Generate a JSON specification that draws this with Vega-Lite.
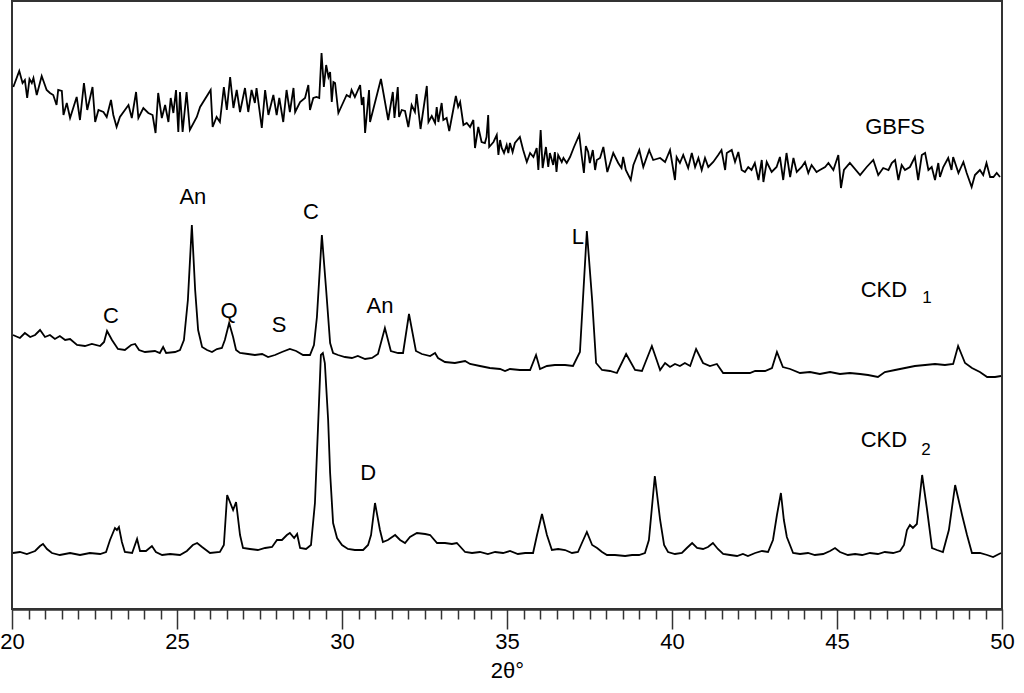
{
  "$schema": "https://vega.github.io/schema/vega-lite/v6.json",
  "width": 990,
  "height": 608,
  "autosize": {"type": "none"},
  "padding": {"left": 12, "top": 1, "right": 22, "bottom": 84},
  "background": "white",
  "config": {
    "view": {"stroke": "#333", "strokeWidth": 2},
    "font": "Liberation Sans"
  },
  "datasets": {
    "gbfs": [
      {"x":20.04,"y":513},{"x":20.22,"y":529},{"x":20.32,"y":517},{"x":20.39,"y":520},{"x":20.46,"y":502},{"x":20.53,"y":521},{"x":20.60,"y":517},{"x":20.65,"y":522},{"x":20.75,"y":505},{"x":20.90,"y":524},{"x":21.05,"y":510},{"x":21.15,"y":507},{"x":21.25,"y":505},{"x":21.35,"y":495},{"x":21.40,"y":510},{"x":21.51,"y":509},{"x":21.56,"y":485},{"x":21.66,"y":497},{"x":21.76,"y":482},{"x":21.96,"y":503},{"x":22.06,"y":480},{"x":22.18,"y":517},{"x":22.28,"y":490},{"x":22.44,"y":513},{"x":22.52,"y":478},{"x":22.62,"y":490},{"x":22.77,"y":488},{"x":22.87,"y":483},{"x":23.00,"y":500},{"x":23.07,"y":485},{"x":23.17,"y":473},{"x":23.27,"y":483},{"x":23.53,"y":495},{"x":23.63,"y":482},{"x":23.76,"y":508},{"x":23.83,"y":482},{"x":23.98,"y":492},{"x":24.13,"y":487},{"x":24.26,"y":485},{"x":24.35,"y":467},{"x":24.43,"y":507},{"x":24.54,"y":482},{"x":24.64,"y":495},{"x":24.74,"y":478},{"x":24.81,"y":502},{"x":24.89,"y":487},{"x":24.97,"y":510},{"x":25.04,"y":468},{"x":25.09,"y":508},{"x":25.17,"y":468},{"x":25.29,"y":508},{"x":25.39,"y":470},{"x":25.60,"y":483},{"x":25.70,"y":493},{"x":26.02,"y":510},{"x":26.08,"y":473},{"x":26.20,"y":483},{"x":26.30,"y":478},{"x":26.42,"y":513},{"x":26.51,"y":490},{"x":26.61,"y":523},{"x":26.71,"y":492},{"x":26.81,"y":510},{"x":26.91,"y":488},{"x":27.06,"y":512},{"x":27.16,"y":488},{"x":27.26,"y":510},{"x":27.36,"y":497},{"x":27.41,"y":512},{"x":27.57,"y":472},{"x":27.67,"y":510},{"x":27.77,"y":485},{"x":27.92,"y":505},{"x":28.02,"y":485},{"x":28.10,"y":502},{"x":28.22,"y":478},{"x":28.32,"y":510},{"x":28.42,"y":488},{"x":28.53,"y":512},{"x":28.58,"y":488},{"x":28.73,"y":498},{"x":28.88,"y":502},{"x":28.98,"y":515},{"x":29.03,"y":490},{"x":29.13,"y":502},{"x":29.23,"y":503},{"x":29.31,"y":502},{"x":29.38,"y":547},{"x":29.45,"y":513},{"x":29.52,"y":535},{"x":29.59,"y":523},{"x":29.64,"y":528},{"x":29.69,"y":498},{"x":29.74,"y":518},{"x":29.79,"y":517},{"x":29.89,"y":487},{"x":30.14,"y":505},{"x":30.24,"y":503},
      {"x":30.29,"y":510},{"x":30.39,"y":503},{"x":30.55,"y":515},{"x":30.60,"y":495},{"x":30.65,"y":503},{"x":30.70,"y":467},{"x":30.82,"y":510},{"x":30.85,"y":478},{"x":31.18,"y":521},{"x":31.40,"y":480},{"x":31.54,"y":508},{"x":31.59,"y":482},{"x":31.69,"y":513},{"x":31.73,"y":483},{"x":31.81,"y":490},{"x":31.91,"y":489},{"x":32.01,"y":473},{"x":32.11,"y":495},{"x":32.21,"y":488},{"x":32.26,"y":506},{"x":32.38,"y":471},{"x":32.57,"y":514},{"x":32.62,"y":478},{"x":32.72,"y":484},{"x":32.82,"y":477},{"x":32.87,"y":493},{"x":32.92,"y":478},{"x":33.02,"y":497},{"x":33.07,"y":480},{"x":33.17,"y":482},{"x":33.25,"y":469},{"x":33.45,"y":504},{"x":33.52,"y":493},{"x":33.58,"y":498},{"x":33.68,"y":475},{"x":33.78,"y":477},{"x":33.88,"y":473},{"x":33.98,"y":480},{"x":34.03,"y":452},{"x":34.13,"y":473},{"x":34.23,"y":458},{"x":34.33,"y":457},{"x":34.38,"y":463},{"x":34.43,"y":485},{"x":34.46,"y":453},{"x":34.59,"y":458},{"x":34.69,"y":465},{"x":34.74,"y":445},{"x":34.79,"y":460},{"x":34.84,"y":452},{"x":34.91,"y":447},{"x":34.99,"y":455},{"x":35.04,"y":447},{"x":35.09,"y":457},{"x":35.17,"y":448},{"x":35.24,"y":457},{"x":35.39,"y":463},{"x":35.49,"y":450},{"x":35.60,"y":438},{"x":35.70,"y":447},{"x":35.80,"y":443},{"x":35.90,"y":452},{"x":35.95,"y":430},{"x":36.02,"y":470},{"x":36.08,"y":432},{"x":36.18,"y":453},{"x":36.25,"y":433},{"x":36.30,"y":447},{"x":36.40,"y":435},{"x":36.45,"y":448},{"x":36.50,"y":428},{"x":36.55,"y":445},{"x":36.66,"y":438},{"x":36.71,"y":442},{"x":36.81,"y":437},{"x":36.91,"y":443},{"x":37.03,"y":453},{"x":37.19,"y":465},{"x":37.26,"y":445},{"x":37.33,"y":427},{"x":37.39,"y":454},{"x":37.46,"y":448},{"x":37.51,"y":437},{"x":37.60,"y":450},{"x":37.67,"y":430},{"x":37.72,"y":440},{"x":37.82,"y":442},{"x":37.92,"y":453},{"x":38.04,"y":428},{"x":38.22,"y":447},{"x":38.37,"y":437},{"x":38.47,"y":432},{"x":38.52,"y":443},{"x":38.60,"y":430},{"x":38.75,"y":420},{"x":38.83,"y":435},{"x":39.01,"y":450},{"x":39.13,"y":433},{"x":39.31,"y":450},
      {"x":39.33,"y":448},{"x":39.43,"y":440},{"x":39.64,"y":442},{"x":39.79,"y":438},{"x":39.94,"y":450},{"x":40.09,"y":420},{"x":40.14,"y":443},{"x":40.24,"y":437},{"x":40.34,"y":445},{"x":40.49,"y":432},{"x":40.60,"y":447},{"x":40.70,"y":433},{"x":40.80,"y":442},{"x":40.90,"y":430},{"x":41.00,"y":442},{"x":41.10,"y":433},{"x":41.25,"y":438},{"x":41.40,"y":445},{"x":41.50,"y":450},{"x":41.61,"y":430},{"x":41.66,"y":447},{"x":41.81,"y":450},{"x":41.91,"y":438},{"x":42.01,"y":448},{"x":42.11,"y":430},{"x":42.21,"y":428},{"x":42.31,"y":433},{"x":42.41,"y":430},{"x":42.51,"y":437},{"x":42.62,"y":420},{"x":42.72,"y":440},{"x":42.77,"y":418},{"x":42.87,"y":438},{"x":43.02,"y":428},{"x":43.17,"y":433},{"x":43.27,"y":443},{"x":43.37,"y":420},{"x":43.47,"y":447},{"x":43.58,"y":423},{"x":43.68,"y":442},{"x":43.78,"y":428},{"x":43.93,"y":433},{"x":44.03,"y":438},{"x":44.13,"y":427},{"x":44.23,"y":435},{"x":44.38,"y":428},{"x":44.48,"y":430},{"x":44.64,"y":433},{"x":44.74,"y":437},{"x":44.89,"y":430},{"x":45.04,"y":445},{"x":45.12,"y":412},{"x":45.21,"y":430},{"x":45.39,"y":437},{"x":45.70,"y":425},{"x":45.90,"y":433},{"x":46.10,"y":440},{"x":46.25,"y":425},{"x":46.40,"y":432},{"x":46.56,"y":430},{"x":46.66,"y":437},{"x":46.76,"y":440},{"x":46.86,"y":420},{"x":46.96,"y":435},{"x":47.06,"y":430},{"x":47.21,"y":433},{"x":47.36,"y":443},{"x":47.46,"y":420},{"x":47.57,"y":445},{"x":47.67,"y":447},{"x":47.77,"y":430},{"x":47.87,"y":433},{"x":47.97,"y":420},{"x":48.07,"y":437},{"x":48.12,"y":423},{"x":48.22,"y":433},{"x":48.37,"y":442},{"x":48.47,"y":430},{"x":48.52,"y":443},{"x":48.68,"y":427},{"x":48.83,"y":438},{"x":48.93,"y":427},{"x":49.08,"y":413},{"x":49.18,"y":425},{"x":49.33,"y":430},{"x":49.43,"y":425},{"x":49.53,"y":437},{"x":49.64,"y":423},{"x":49.74,"y":423},{"x":49.84,"y":427},{"x":49.94,"y":423}
    ],
    "ckd1": [
      {"x":20.03,"y":265},{"x":20.24,"y":262},{"x":20.39,"y":267},{"x":20.55,"y":263},{"x":20.70,"y":265},{"x":20.85,"y":270},{"x":21.00,"y":263},{"x":21.15,"y":265},{"x":21.30,"y":261},{"x":21.45,"y":264},{"x":21.61,"y":260},{"x":21.76,"y":261},{"x":21.97,"y":255},{"x":22.21,"y":254},{"x":22.42,"y":256},{"x":22.67,"y":254},{"x":22.79,"y":258},{"x":22.88,"y":269},{"x":23.03,"y":260},{"x":23.21,"y":251},{"x":23.42,"y":250},{"x":23.61,"y":255},{"x":23.73,"y":256},{"x":23.85,"y":250},{"x":24.03,"y":248},{"x":24.33,"y":249},{"x":24.48,"y":247},{"x":24.58,"y":253},{"x":24.67,"y":247},{"x":24.94,"y":248},{"x":25.09,"y":250},{"x":25.21,"y":260},{"x":25.33,"y":300},{"x":25.45,"y":375},{"x":25.55,"y":310},{"x":25.64,"y":270},{"x":25.76,"y":253},{"x":25.91,"y":250},{"x":26.06,"y":248},{"x":26.21,"y":251},{"x":26.36,"y":252},{"x":26.45,"y":260},{"x":26.58,"y":277},{"x":26.70,"y":263},{"x":26.79,"y":250},{"x":26.91,"y":247},{"x":27.15,"y":246},{"x":27.36,"y":245},{"x":27.58,"y":246},{"x":27.76,"y":243},{"x":27.97,"y":245},{"x":28.18,"y":248},{"x":28.42,"y":251},{"x":28.61,"y":249},{"x":28.82,"y":245},{"x":29.03,"y":245},{"x":29.15,"y":255},{"x":29.24,"y":283},{"x":29.39,"y":365},{"x":29.52,"y":310},{"x":29.64,"y":257},{"x":29.73,"y":247},{"x":29.88,"y":245},{"x":30.09,"y":243},{"x":30.30,"y":242},{"x":30.48,"y":244},{"x":30.70,"y":241},{"x":30.91,"y":242},{"x":31.09,"y":246},{"x":31.30,"y":272},{"x":31.48,"y":249},{"x":31.70,"y":247},{"x":31.85,"y":247},{"x":32.03,"y":286},{"x":32.24,"y":249},{"x":32.42,"y":246},{"x":32.67,"y":244},{"x":32.82,"y":247},{"x":32.91,"y":242},{"x":33.12,"y":238},{"x":33.42,"y":237},{"x":33.73,"y":239},{"x":33.88,"y":236},{"x":34.18,"y":234},{"x":34.48,"y":232},{"x":34.79,"y":231},{"x":34.94,"y":229},{"x":35.09,"y":231},{"x":35.39,"y":230},{"x":35.70,"y":230},{"x":35.88,"y":245},{"x":36.00,"y":231},{"x":36.21,"y":234},{"x":36.45,"y":235},{"x":36.76,"y":235},{"x":37.00,"y":234},{"x":37.21,"y":248},{"x":37.42,"y":369},{"x":37.58,"y":300},{"x":37.70,"y":237},{"x":37.88,"y":230},{"x":38.12,"y":229},{"x":38.33,"y":227},{"x":38.61,"y":246},{"x":38.88,"y":230},{"x":39.09,"y":229},{"x":39.39,"y":254},{"x":39.64,"y":230},{"x":39.79,"y":237},{"x":39.94,"y":233},{"x":40.09,"y":236},{"x":40.24,"y":234},{"x":40.39,"y":237},{"x":40.55,"y":234},{"x":40.73,"y":251},{"x":40.94,"y":237},{"x":41.15,"y":234},{"x":41.36,"y":236},{"x":41.55,"y":227},{"x":41.91,"y":227},{"x":42.36,"y":227},{"x":42.52,"y":229},{"x":42.82,"y":229},{"x":43.03,"y":232},{"x":43.18,"y":248},{"x":43.36,"y":233},{"x":43.58,"y":231},{"x":43.88,"y":227},{"x":44.18,"y":228},{"x":44.48,"y":226},{"x":44.79,"y":228},{"x":45.09,"y":226},{"x":45.39,"y":227},{"x":45.70,"y":226},{"x":45.94,"y":225},{"x":46.24,"y":223},{"x":46.45,"y":228},{"x":46.76,"y":230},{"x":47.06,"y":232},{"x":47.36,"y":234},{"x":47.67,"y":235},{"x":47.97,"y":236},{"x":48.27,"y":235},{"x":48.52,"y":236},{"x":48.67,"y":254},{"x":48.88,"y":237},{"x":49.09,"y":232},{"x":49.33,"y":228},{"x":49.55,"y":223},{"x":49.79,"y":223},{"x":49.97,"y":224}
    ],
    "ckd2": [
      {"x":20.03,"y":47},{"x":20.24,"y":48},{"x":20.45,"y":46},{"x":20.70,"y":49},{"x":20.85,"y":54},{"x":20.94,"y":56},{"x":21.06,"y":51},{"x":21.21,"y":47},{"x":21.45,"y":45},{"x":21.76,"y":47},{"x":22.06,"y":45},{"x":22.36,"y":47},{"x":22.67,"y":46},{"x":22.85,"y":48},{"x":22.97,"y":60},{"x":23.12,"y":72},{"x":23.18,"y":70},{"x":23.24,"y":73},{"x":23.33,"y":58},{"x":23.42,"y":48},{"x":23.64,"y":47},{"x":23.79,"y":61},{"x":23.88,"y":49},{"x":24.06,"y":49},{"x":24.24,"y":54},{"x":24.36,"y":48},{"x":24.55,"y":45},{"x":24.79,"y":46},{"x":25.09,"y":45},{"x":25.30,"y":49},{"x":25.48,"y":55},{"x":25.61,"y":57},{"x":25.76,"y":53},{"x":26.00,"y":47},{"x":26.30,"y":48},{"x":26.42,"y":55},{"x":26.52,"y":105},{"x":26.70,"y":90},{"x":26.79,"y":98},{"x":26.91,"y":65},{"x":27.00,"y":52},{"x":27.21,"y":51},{"x":27.45,"y":50},{"x":27.67,"y":52},{"x":27.88,"y":53},{"x":28.03,"y":60},{"x":28.18,"y":60},{"x":28.33,"y":65},{"x":28.42,"y":67},{"x":28.55,"y":62},{"x":28.64,"y":66},{"x":28.73,"y":52},{"x":28.91,"y":51},{"x":29.06,"y":55},{"x":29.18,"y":97},{"x":29.27,"y":170},{"x":29.36,"y":245},{"x":29.42,"y":247},{"x":29.48,"y":237},{"x":29.58,"y":180},{"x":29.64,"y":127},{"x":29.73,"y":77},{"x":29.85,"y":62},{"x":30.00,"y":55},{"x":30.18,"y":51},{"x":30.39,"y":50},{"x":30.64,"y":50},{"x":30.79,"y":55},{"x":30.88,"y":65},{"x":31.00,"y":97},{"x":31.15,"y":70},{"x":31.24,"y":58},{"x":31.39,"y":60},{"x":31.61,"y":65},{"x":31.76,"y":60},{"x":31.91,"y":57},{"x":32.06,"y":63},{"x":32.27,"y":67},{"x":32.52,"y":66},{"x":32.67,"y":65},{"x":32.88,"y":57},{"x":33.12,"y":57},{"x":33.33,"y":56},{"x":33.48,"y":57},{"x":33.73,"y":48},{"x":33.94,"y":47},{"x":34.18,"y":48},{"x":34.42,"y":46},{"x":34.64,"y":48},{"x":34.88,"y":47},{"x":35.09,"y":49},{"x":35.33,"y":46},{"x":35.55,"y":47},{"x":35.79,"y":47},{"x":35.91,"y":65},{"x":36.06,"y":86},{"x":36.21,"y":65},{"x":36.36,"y":50},{"x":36.55,"y":51},{"x":36.76,"y":50},{"x":36.97,"y":47},{"x":37.15,"y":48},{"x":37.27,"y":57},{"x":37.42,"y":68},{"x":37.58,"y":55},{"x":37.73,"y":52},{"x":37.88,"y":48},{"x":38.03,"y":45},{"x":38.27,"y":45},{"x":38.58,"y":44},{"x":38.79,"y":45},{"x":39.00,"y":45},{"x":39.18,"y":47},{"x":39.30,"y":60},{"x":39.48,"y":124},{"x":39.64,"y":80},{"x":39.76,"y":55},{"x":39.88,"y":48},{"x":40.09,"y":46},{"x":40.30,"y":47},{"x":40.45,"y":52},{"x":40.61,"y":57},{"x":40.76,"y":52},{"x":40.94,"y":51},{"x":41.09,"y":53},{"x":41.24,"y":57},{"x":41.39,"y":51},{"x":41.55,"y":46},{"x":41.76,"y":45},{"x":41.97,"y":44},{"x":42.15,"y":46},{"x":42.30,"y":44},{"x":42.52,"y":47},{"x":42.73,"y":49},{"x":42.91,"y":48},{"x":43.06,"y":60},{"x":43.18,"y":85},{"x":43.30,"y":107},{"x":43.39,"y":80},{"x":43.48,"y":63},{"x":43.67,"y":47},{"x":43.88,"y":46},{"x":44.12,"y":47},{"x":44.33,"y":45},{"x":44.58,"y":46},{"x":44.79,"y":49},{"x":44.94,"y":52},{"x":45.09,"y":48},{"x":45.33,"y":45},{"x":45.55,"y":46},{"x":45.76,"y":45},{"x":46.00,"y":47},{"x":46.24,"y":46},{"x":46.45,"y":48},{"x":46.70,"y":47},{"x":46.91,"y":49},{"x":47.03,"y":55},{"x":47.12,"y":70},{"x":47.21,"y":75},{"x":47.30,"y":72},{"x":47.42,"y":76},{"x":47.58,"y":125},{"x":47.73,"y":90},{"x":47.88,"y":52},{"x":48.03,"y":50},{"x":48.21,"y":48},{"x":48.39,"y":70},{"x":48.58,"y":115},{"x":48.79,"y":85},{"x":48.94,"y":65},{"x":49.09,"y":47},{"x":49.33,"y":47},{"x":49.55,"y":45},{"x":49.73,"y":43},{"x":49.85,"y":45},{"x":49.97,"y":47}
    ],
    "labels": [
      {"t":"GBFS","x":46.76,"y":473},
      {"t":"An","x":25.48,"y":403},
      {"t":"C","x":29.06,"y":388},
      {"t":"L","x":37.15,"y":363},
      {"t":"CKD","x":46.42,"y":310},
      {"t":"C","x":23.0,"y":284},
      {"t":"Q","x":26.58,"y":289},
      {"t":"S","x":28.09,"y":275},
      {"t":"An","x":31.15,"y":294},
      {"t":"CKD","x":46.42,"y":160},
      {"t":"D","x":30.79,"y":127}
    ],
    "subs": [
      {"t":"1","x":47.73,"y":302},
      {"t":"2","x":47.7,"y":150}
    ]
  },
  "encoding": {
    "x": {"field": "x", "type": "quantitative", "scale": {"domain": [20, 50], "nice": false, "zero": false},
      "axis": {
        "orient": "bottom",
        "values": [20.5,21,21.5,22,22.5,23,23.5,24,24.5,25.5,26,26.5,27,27.5,28,28.5,29,29.5,30.5,31,31.5,32,32.5,33,33.5,34,34.5,35.5,36,36.5,37,37.5,38,38.5,39,39.5,40.5,41,41.5,42,42.5,43,43.5,44,44.5,45.5,46,46.5,47,47.5,48,48.5,49,49.5],
        "labels": false,
        "tickSize": 10,
        "tickColor": "#333",
        "tickWidth": 1.5,
        "domainColor": "#333",
        "domainWidth": 2,
        "grid": false,
        "title": null
      }},
    "y": {"field": "y", "type": "quantitative", "scale": {"domain": [-9, 599], "nice": false, "zero": false}, "axis": null}
  },
  "resolve": {"axis": {"x": "independent"}},
  "layer": [
    {
      "data": {"name": "gbfs"},
      "mark": {"type": "line", "color": "black", "strokeWidth": 1.8}
    },
    {
      "data": {"name": "ckd1"},
      "mark": {"type": "line", "color": "black", "strokeWidth": 1.8},
      "encoding": {
        "x": {"field": "x", "type": "quantitative", "scale": {"domain": [20, 50], "nice": false, "zero": false},
          "axis": {
            "orient": "bottom",
            "values": [20, 25, 30, 35, 40, 45, 50],
            "format": "d",
            "tickSize": 20,
            "tickColor": "#333",
            "tickWidth": 1.5,
            "domainColor": "#333",
            "domainWidth": 2,
            "grid": false,
            "labelFont": "Liberation Sans",
            "labelFontSize": 22,
            "labelColor": "black",
            "labelPadding": 2,
            "labelFlush": false,
            "labelOverlap": false,
            "title": "2θ°",
            "titleFont": "Liberation Sans",
            "titleFontSize": 22,
            "titleFontWeight": "normal",
            "titleColor": "black",
            "titlePadding": 8
          }}
      }
    },
    {
      "data": {"name": "ckd2"},
      "mark": {"type": "line", "color": "black", "strokeWidth": 1.8},
      "encoding": {"x": {"field": "x", "type": "quantitative", "axis": null}}
    },
    {
      "data": {"name": "labels"},
      "mark": {"type": "text", "font": "Liberation Sans", "fontSize": 22, "color": "black", "align": "center", "baseline": "middle"},
      "encoding": {"x": {"field": "x", "type": "quantitative", "axis": null}, "text": {"field": "t"}}
    },
    {
      "data": {"name": "subs"},
      "mark": {"type": "text", "font": "Liberation Sans", "fontSize": 17, "color": "black", "align": "center", "baseline": "middle"},
      "encoding": {"x": {"field": "x", "type": "quantitative", "axis": null}, "text": {"field": "t"}}
    }
  ]
}
